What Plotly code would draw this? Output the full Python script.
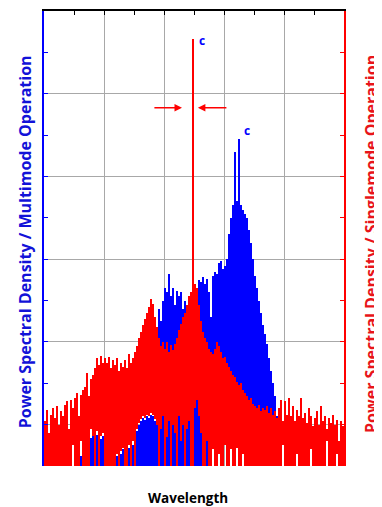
import plotly.graph_objects as go

# ---- data (150 spectral samples across the window) ----
multimode_top = [
    0, 0, 0, 0, 0, 0, 0, 0, 0, 0,
    0, 0, 0, 0, 0, 0, 0, 0, 0.12, 0,
    0, 0.10, 0.25, 0.34, 0.36, 0.20, 0.37, 0.15, 0.33, 0.36,
    0.10, 0.05, 0.18, 0.0, 0.12, 0.08, 0.12, 0.05, 0.15, 0.20,
    0.06, 0.10, 0.22, 0.10, 0.25, 0.30, 0.42, 0.50, 0.55, 0.58,
    0.56, 0.60, 0.58, 0.62, 0.60, 0.55, 1.20, 1.90, 1.75, 2.00,
    2.15, 2.10, 2.32, 2.05, 2.15, 1.95, 2.12, 2.05, 2.10, 1.90,
    2.00, 1.95, 1.98, 1.90, 1.50, 2.04, 2.10, 2.25, 2.22, 2.28,
    2.20, 2.26, 2.10, 1.80, 2.30, 2.35, 2.32, 2.45, 2.48, 2.38,
    2.42, 2.50, 2.80, 3.00, 3.15, 3.80, 3.20, 3.95, 3.15, 3.10,
    3.05, 3.00, 2.85, 2.70, 2.50, 2.30, 2.15, 2.00, 1.85, 1.70,
    1.60, 1.48, 1.30, 1.15, 1.00, 0.85, 0.60, 0.40, 0.20, 0,
    0, 0, 0, 0, 0, 0, 0, 0, 0, 0,
    0, 0, 0, 0, 0, 0, 0, 0, 0, 0,
    0, 0, 0, 0, 0, 0, 0, 0, 0, 0,
]
multimode_base = [
    0, 0, 0, 0, 0, 0, 0, 0, 0, 0,
    0, 0, 0, 0, 0, 0, 0, 0, 0, 0,
    0, 0, 0, 0, 0, 0, 0, 0, 0, 0,
    0, 0, 0, 0, 0, 0, 0, 0, 0, 0,
    0, 0, 0, 0, 0, 0, 0, 0, 0, 0,
    0, 0, 0, 0, 0, 0, 0, 0, 0, 0,
    0, 0, 0, 0, 0, 0, 0, 0, 0, 0,
    0, 0, 0, 0, 0, 0, 0, 0, 0, 0,
    0, 0, 0, 0, 0.20, 0, 0, 0.15, 0, 0,
    0.25, 0, 0, 0.20, 0, 0, 0.22, 0, 0, 0.15,
    0, 0, 0, 0, 0, 0, 0, 0, 0, 0,
    0, 0, 0, 0, 0, 0, 0, 0, 0, 0,
    0, 0, 0, 0, 0, 0, 0, 0, 0, 0,
    0, 0, 0, 0, 0, 0, 0, 0, 0, 0,
    0, 0, 0, 0, 0, 0, 0, 0, 0, 0,
]
singlemode_top = [
    0.55, 0.68, 0.40, 0.62, 0.70, 0.58, 0.72, 0.50, 0.66, 0.60,
    0.74, 0.78, 0.45, 0.80, 0.70, 0.82, 0.88, 0.60, 0.86, 0.92,
    0.95, 1.12, 0.85, 1.05, 1.10, 1.18, 1.30, 1.22, 1.33, 1.25,
    1.30, 1.24, 1.32, 1.18, 1.28, 1.22, 1.30, 1.15, 1.25, 1.20,
    1.28, 1.18, 1.35, 1.25, 1.30, 1.38, 1.45, 1.55, 1.62, 1.70,
    1.78, 1.85, 1.92, 2.02, 1.96, 1.80, 1.68, 1.55, 1.45, 1.50,
    1.42, 1.50, 1.38, 1.46, 1.40, 1.48, 1.55, 1.65, 1.72, 1.80,
    1.85, 1.95, 2.05, 2.10, 5.16, 2.20, 2.15, 1.95, 1.75, 1.62,
    1.55, 1.50, 1.42, 1.38, 1.35, 1.42, 1.50, 1.45, 1.38, 1.30,
    1.32, 1.25, 1.20, 1.15, 1.10, 1.08, 1.02, 0.98, 1.00, 0.92,
    0.88, 0.85, 0.80, 0.82, 0.75, 0.72, 0.70, 0.74, 0.66, 0.70,
    0.68, 0.72, 0.64, 0.70, 0.62, 0.66, 0.58, 0.70, 0.80, 0.55,
    0.78, 0.62, 0.82, 0.60, 0.72, 0.55, 0.68, 0.60, 0.82, 0.58,
    0.64, 0.52, 0.70, 0.60, 0.48, 0.58, 0.66, 0.50, 0.72, 0.55,
    0.60, 0.45, 0.58, 0.52, 0.62, 0.50, 0.56, 0.30, 0.54, 0.48,
]
singlemode_base = [
    0, 0, 0, 0, 0, 0, 0, 0, 0, 0,
    0, 0, 0, 0, 0.25, 0, 0, 0, 0.30, 0,
    0, 0, 0, 0.45, 0.36, 0, 0.42, 0, 0.36, 0.40,
    0, 0, 0, 0, 0, 0, 0.15, 0, 0.18, 0.22,
    0, 0, 0.25, 0, 0.30, 0, 0.45, 0.52, 0.57, 0.60,
    0.58, 0.62, 0.60, 0.64, 0.62, 0.57, 0.50, 0, 0.45, 0.60,
    0, 0.35, 0.55, 0, 0.50, 0.40, 0, 0.60, 0.30, 0.50,
    0, 0.45, 0.55, 0, 0, 0.70, 0.80, 0.60, 0.40, 0,
    0, 0.30, 0, 0, 0.20, 0, 0, 0.15, 0, 0,
    0.25, 0, 0, 0.20, 0, 0, 0.22, 0, 0, 0.15,
    0, 0, 0, 0, 0, 0, 0, 0, 0, 0,
    0, 0, 0, 0, 0, 0, 0, 0, 0, 0.25,
    0, 0, 0, 0, 0, 0, 0.15, 0, 0, 0,
    0, 0, 0, 0.20, 0, 0, 0, 0, 0, 0,
    0, 0.30, 0, 0, 0, 0, 0.15, 0, 0, 0,
]

n = len(singlemode_top)
step = 10.0 / n
wavelength = [(k + 0.5) * step for k in range(n)]

BLUE = "#0000ff"
RED = "#ff0000"
TITLE_BLUE = "#1212d8"
TITLE_RED = "#e8141a"

fig = go.Figure()
fig.add_trace(go.Bar(
    x=wavelength,
    y=[t - b for t, b in zip(multimode_top, multimode_base)],
    base=multimode_base, width=step,
    marker=dict(color=BLUE, line=dict(width=0)),
    yaxis="y", showlegend=False, name="Multimode",
))
fig.add_trace(go.Bar(
    x=wavelength,
    y=[t - b for t, b in zip(singlemode_top, singlemode_base)],
    base=singlemode_base, width=step,
    marker=dict(color=RED, line=dict(width=0)),
    yaxis="y2", showlegend=False, name="Singlemode",
))

# page body has an 8px margin, so the plot area offsets are reduced by 8
fig.update_layout(
    width=382, height=507,
    margin=dict(l=36, r=46, t=3, b=49),
    paper_bgcolor="white", plot_bgcolor="white",
    barmode="overlay", bargap=0,
    font=dict(family="Open Sans", size=13),
    xaxis=dict(
        range=[0, 10], side="top",
        showline=True, linecolor="black", linewidth=1.5,
        ticks="inside", ticklen=4, tickcolor="black", tick0=0, dtick=2,
        showticklabels=False,
        showgrid=True, gridcolor="#a8a8a8", gridwidth=1, zeroline=False,
        minor=dict(dtick=1, ticks="inside", ticklen=4, tickcolor="black", showgrid=False),
    ),
    yaxis=dict(
        range=[0, 5.5],
        showline=True, linecolor=BLUE, linewidth=2,
        ticks="inside", ticklen=4, tickcolor=BLUE, tick0=0.5, dtick=1,
        showticklabels=False,
        showgrid=True, gridcolor="#a8a8a8", gridwidth=1, zeroline=False,
        minor=dict(dtick=0.5, tick0=0, ticks="inside", ticklen=4, tickcolor=BLUE, showgrid=False),
    ),
    yaxis2=dict(
        range=[0, 5.5], overlaying="y", side="right",
        showline=True, linecolor=RED, linewidth=2,
        ticks="inside", ticklen=4, tickcolor=RED, tick0=0, dtick=0.5,
        showticklabels=False, showgrid=False, zeroline=False,
    ),
)

annotations = [
    dict(text="<b>Power Spectral Density / Multimode Operation</b>",
         xref="paper", yref="paper", x=-0.063, y=0.492, textangle=-90,
         xanchor="center", yanchor="middle",
         showarrow=False, font=dict(color=TITLE_BLUE, size=16, family="Open Sans")),
    dict(text="<b>Power Spectral Density / Singlemode Operation</b>",
         xref="paper", yref="paper", x=1.09, y=0.488, textangle=-90,
         xanchor="center", yanchor="middle",
         showarrow=False, font=dict(color=TITLE_RED, size=16, family="Open Sans")),
    dict(text="<b>Wavelength</b>", xref="paper", yref="paper", x=0.48, y=-0.070,
         xanchor="center", yanchor="middle",
         showarrow=False, font=dict(color="black", size=13.5, family="Open Sans")),
    dict(text="<b>c</b>", xref="x", yref="y", x=5.25, y=5.14, showarrow=False,
         font=dict(color=BLUE, size=12, family="Open Sans")),
    dict(text="<b>c</b>", xref="x", yref="y", x=6.75, y=4.06, showarrow=False,
         font=dict(color=BLUE, size=12, family="Open Sans")),
    dict(text="", x=4.6, y=4.33, ax=3.63, ay=4.33, xref="x", yref="y", axref="x", ayref="y",
         showarrow=True, arrowhead=2, arrowsize=1, arrowwidth=1.5, arrowcolor=RED),
    dict(text="", x=5.13, y=4.33, ax=6.13, ay=4.33, xref="x", yref="y", axref="x", ayref="y",
         showarrow=True, arrowhead=2, arrowsize=1, arrowwidth=1.5, arrowcolor=RED),
]
fig.update_layout(annotations=annotations)

fig.write_html("out.html")
